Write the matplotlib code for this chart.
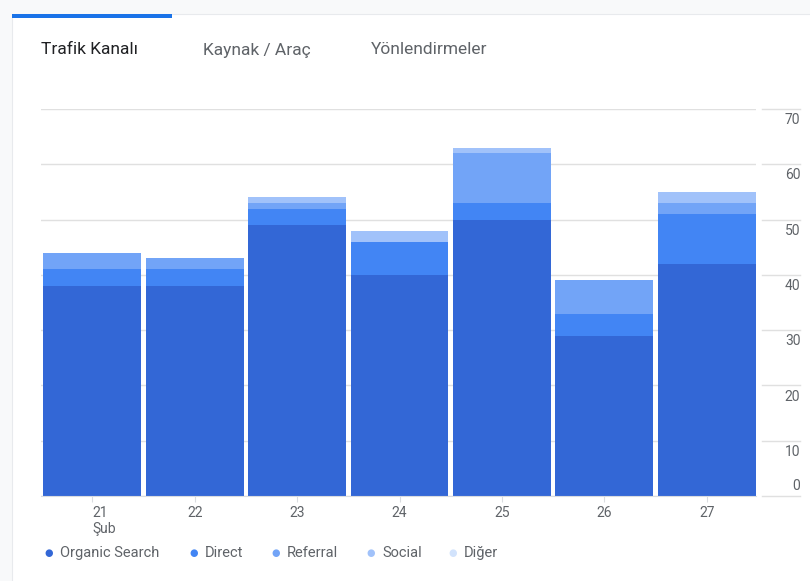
import matplotlib
matplotlib.use("Agg")
import matplotlib.pyplot as plt
import matplotlib.transforms as mtransforms
from matplotlib.patches import Rectangle
from matplotlib.lines import Line2D
import numpy as np

plt.rcParams["font.family"] = ["Roboto", "DejaVu Sans"]

# ── data ─────────────────────────────────────────────────────────────────────
days = ["21\nŞub", "22", "23", "24", "25", "26", "27"]
organic = [38, 38, 49, 40, 50, 29, 42]
direct = [3, 3, 3, 6, 3, 4, 9]
referral = [3, 2, 1, 0, 9, 6, 2]
social = [0, 0, 1, 2, 1, 0, 2]
diger = [0, 0, 0, 0, 0, 0, 0]
channels = ["Organic Search", "Direct", "Referral", "Social", "Diğer"]
colors = ["#3367d6", "#4285f4", "#72a4f7", "#a1c2fa", "#d2e3fc"]
yticks = [0, 10, 20, 30, 40, 50, 60, 70]

W, H = 810, 581
fig = plt.figure(figsize=(W / 100, H / 100), dpi=100)
fig.patch.set_facecolor("#f8f9fa")

# card + active tab indicator
fig.patches.append(Rectangle((12 / W, -0.01), 1, 1.01 - 14 / H, transform=fig.transFigure,
                             facecolor="white", edgecolor="#e8eaed", lw=0.8, zorder=-10))
fig.patches.append(Rectangle((12 / W, 1 - 18 / H), 160 / W, 4 / H, transform=fig.transFigure,
                             facecolor="#1a73e8", edgecolor="none", zorder=5))

# tabs
fig.text(41 / W, 1 - 50 / H, "Trafik Kanalı", fontsize=12.5, color="#202124", va="center")
fig.text(203 / W, 1 - 50 / H, "Kaynak / Araç", fontsize=12.5, color="#5f6368", va="center")
fig.text(371 / W, 1 - 50 / H, "Yönlendirmeler", fontsize=12.5, color="#5f6368", va="center")

ax = fig.add_axes([41 / W, 1 - 496 / H, (756 - 41) / W, (496 - 109) / H])
ax.set_facecolor("none")

x = np.arange(len(days))
series = [organic, direct, referral, social, diger]
bottom = np.zeros(len(days))
for vals, c in zip(series, colors):
    ax.bar(x, vals, bottom=bottom, width=0.955, color=c, edgecolor="none", zorder=2)
    bottom += np.array(vals)

ax.set_xlim(-0.5, 6.48)
ax.set_ylim(0, 70)
ax.set_yticks(yticks)
ax.yaxis.grid(True, color="#e0e0e0", lw=1)
ax.set_axisbelow(True)
ax.tick_params(axis="y", left=False, labelleft=False)
for s in ["top", "right", "left"]:
    ax.spines[s].set_visible(False)
ax.spines["bottom"].set_color("#dadce0")

ax.set_xticks(x)
ax.set_xticklabels(days, fontsize=10, color="#5f6368")
ax.tick_params(axis="x", length=4, color="#dadce0", pad=3)
first = ax.get_xticklabels()[0]
first.set_ha("left")
first.set_multialignment("left")

# right-side value labels with their short grid segments
blend = mtransforms.blended_transform_factory(ax.transAxes, ax.transData)
for v in yticks:
    ax.add_line(Line2D([1.008, 1.062], [v, v], transform=blend, color="#e0e0e0",
                       lw=1, clip_on=False))
    if v == 0:
        off = mtransforms.offset_copy(blend, fig=fig, y=2, units="points")
        ax.text(1.062, v, str(v), transform=off, ha="right", va="bottom",
                fontsize=10, color="#5f6368")
    else:
        off = mtransforms.offset_copy(blend, fig=fig, y=-3, units="points")
        ax.text(1.062, v, str(v), transform=off, ha="right", va="top",
                fontsize=10, color="#5f6368")

# legend
leg_x = [49, 194, 276, 371, 453]
for lx, name, c in zip(leg_x, channels, colors):
    fig.text(lx / W, 1 - 553 / H, "●", fontsize=7, color=c, ha="center", va="center")
    fig.text((lx + 11) / W, 1 - 553 / H, name, fontsize=10.5, color="#5f6368", va="center")

plt.savefig("out.png", dpi=100)
plt.close()
